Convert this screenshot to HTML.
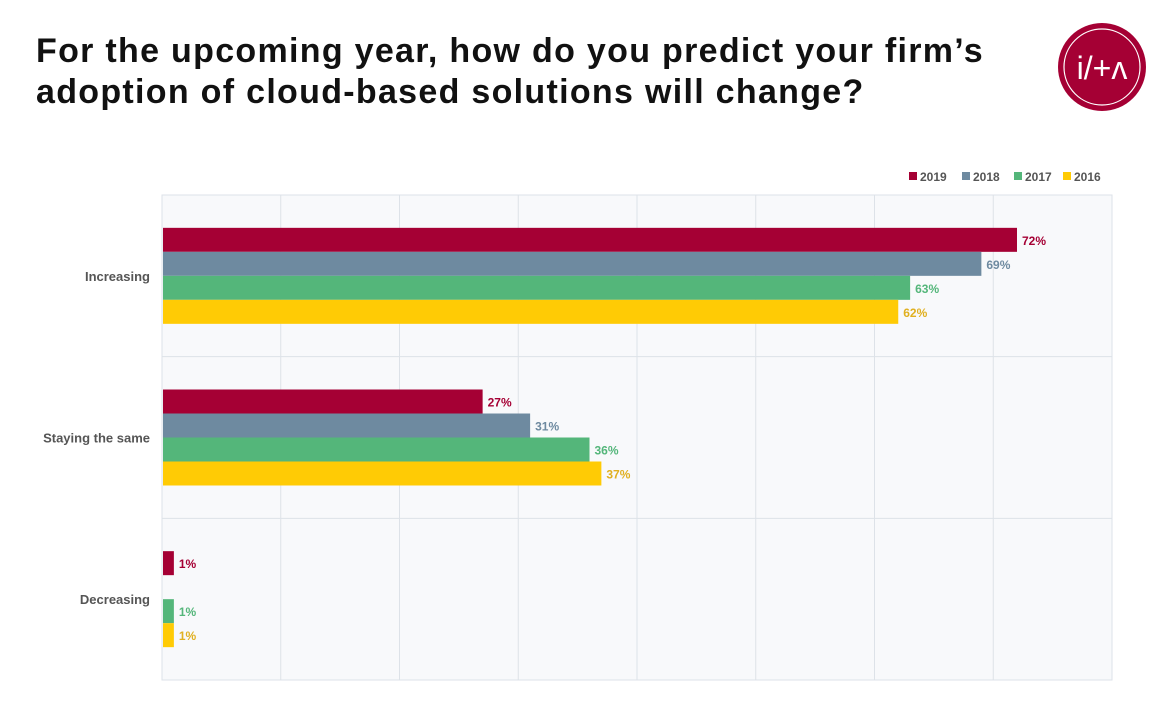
<!DOCTYPE html>
<html><head><meta charset="utf-8"><style>
body{margin:0;width:1171px;height:716px;background:#fff;font-family:"Liberation Sans",sans-serif;overflow:hidden}
#title{position:absolute;left:36px;top:31px;font-size:34px;font-weight:bold;line-height:41px;color:#111;margin:0;letter-spacing:1.3px}
</style></head><body>
<h1 id="title">For the upcoming year, how do you predict your firm’s<br>adoption of cloud-based solutions will change?</h1>
<svg width="1171" height="716" style="position:absolute;left:0;top:0" id="chart">
<g>
<circle cx="1102" cy="67" r="44" fill="#a50034"/>
<circle cx="1102" cy="67" r="38" fill="none" stroke="#fff" stroke-width="1.2"/>
<text x="1102" y="79" text-anchor="middle" fill="#fff" font-size="32" font-family="Liberation Sans">i/+ʌ</text>
</g>
</svg>
<script>
const categories=["Increasing","Staying the same","Decreasing"];
const seriesNames=["2019","2018","2017","2016"];
const colors=["#a50034","#6e8aa0","#54b67a","#ffcb05"];
const labelColors=["#a50034","#6e8aa0","#54b67a","#e0b020"];
const v2019=[72,27,1];
const v2018=[69,31,null];
const v2017=[63,36,1];
const v2016=[62,37,1];
const xTicks=[0,10,20,30,40,50,60,70,80];
const series=[v2019,v2018,v2017,v2016];
const svg=document.getElementById('chart');
const NS='http://www.w3.org/2000/svg';
const L=162,R=1112,T=195,B=680,xMax=80;
const x=v=>L+(R-L)*v/xMax;
const band=(B-T)/categories.length;
function mk(t,a){const e=document.createElementNS(NS,t);for(const k in a)e.setAttribute(k,a[k]);svg.appendChild(e);return e;}
let bg=mk('rect',{x:L,y:T,width:R-L,height:B-T,fill:'#f8f9fb',stroke:'#dde2e8'});


xTicks.forEach(t=>{const g=mk('line',{x1:x(t),x2:x(t),y1:T,y2:B,stroke:'#dde2e8'});

});
for(let i=1;i<categories.length;i++){const g=mk('line',{x1:L,x2:R,y1:T+band*i,y2:T+band*i,stroke:'#dde2e8'});

}
const bh=24;
categories.forEach((c,ci)=>{
 const cy=T+band*ci+band/2;
 const lab=mk('text',{x:150,y:cy+5,'text-anchor':'end','font-size':13,'font-weight':'bold',fill:'#555'});
 lab.textContent=c;
 
 
 series.forEach((s,si)=>{
  const v=s[ci]; if(v==null)return;
  const y=cy-2*bh+si*bh;
  const r=mk('rect',{x:L+1,y:y,width:x(v)-L-1,height:bh,fill:colors[si]});
  
  
  const t=mk('text',{x:x(v)+5,y:y+17,'font-size':12,'font-weight':'bold',fill:labelColors[si]});
  t.textContent=v+'%';
  
  
 });
});
const lx=[909,962,1014,1063];
seriesNames.forEach((n,i)=>{
 const r=mk('rect',{x:lx[i],y:172,width:8,height:8,fill:colors[i]});
 
 
 const t=mk('text',{x:lx[i]+11,y:181,'font-size':12,'font-weight':'bold',fill:'#555'});
 t.textContent=n;
 
 
});
</script>
</body></html>
